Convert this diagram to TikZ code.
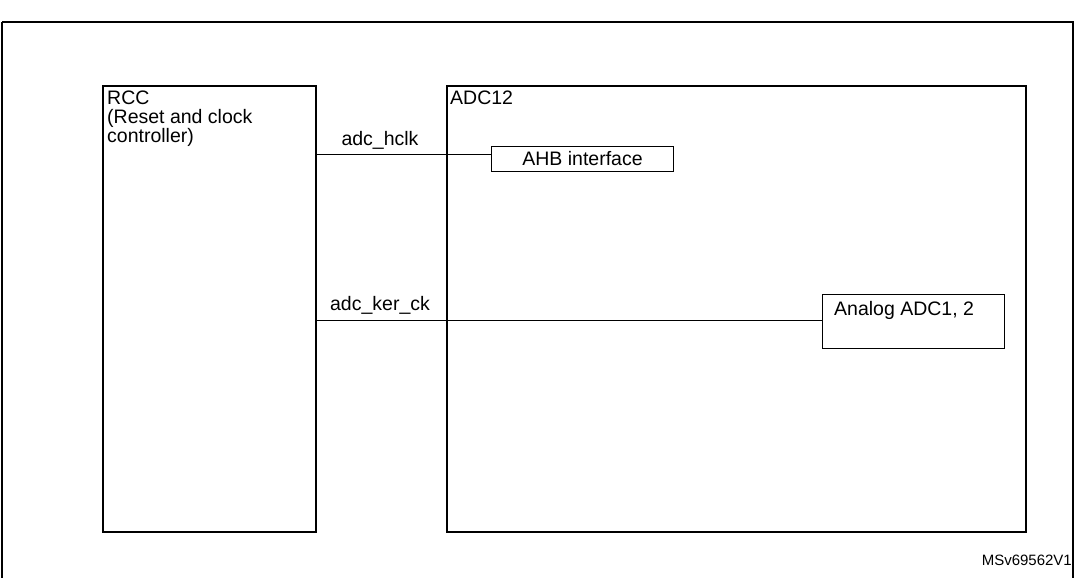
\documentclass[tikz,border=0pt]{standalone}
\usepackage{fontspec}
\setmainfont{Liberation Sans}
\begin{document}
\begin{tikzpicture}[x=1pt,y=-1pt,
  box/.style={draw,line width=1.6pt,inner sep=0pt},
  lbl/.style={font=\fontsize{19.5}{19}\selectfont,inner sep=0pt}]
\useasboundingbox (0,0) rectangle (1075,578);
\draw[line width=1.6pt] (2,22) -- (1073,22) -- (1073,578) (2,22) -- (2,578);
\node[box,minimum width=213pt,minimum height=446pt,anchor=north west] (rcc) at (102,85) {};
\node[lbl,anchor=north west,align=left] (rcct) at (107,91) {RCC\\(Reset and clock\\controller)};
\node[box,minimum width=579pt,minimum height=446pt,anchor=north west] (adc) at (446,85) {};
\node[lbl,anchor=north west] (adct) at (450,91) {ADC12};
\node[box,line width=1pt,minimum width=182pt,minimum height=25pt,anchor=north west] (ahb) at (491,146) {};
\node[lbl] (ahbt) at (ahb) {AHB interface};
\node[box,line width=1pt,minimum width=182pt,minimum height=54pt,anchor=north west] (ana) at (822,294) {};
\node[lbl,anchor=north west] (anat) at (834,301) {Analog ADC1, 2};
\coordinate (h1) at (315,154);
\coordinate (k1) at (315,320);
\draw[line width=1pt] (h1) -- (ahb.west |- h1);
\draw[line width=1pt] (k1) -- (ana.west |- k1);
\node[lbl,anchor=base] (hl) at (380,145) {adc\_hclk};
\node[lbl,anchor=base] (kl) at (380,310) {adc\_ker\_ck};
\node[font=\fontsize{15}{17}\selectfont,inner sep=0pt,anchor=east] (ms) at (1072,560) {MSv69562V1};
\end{tikzpicture}
\end{document}
